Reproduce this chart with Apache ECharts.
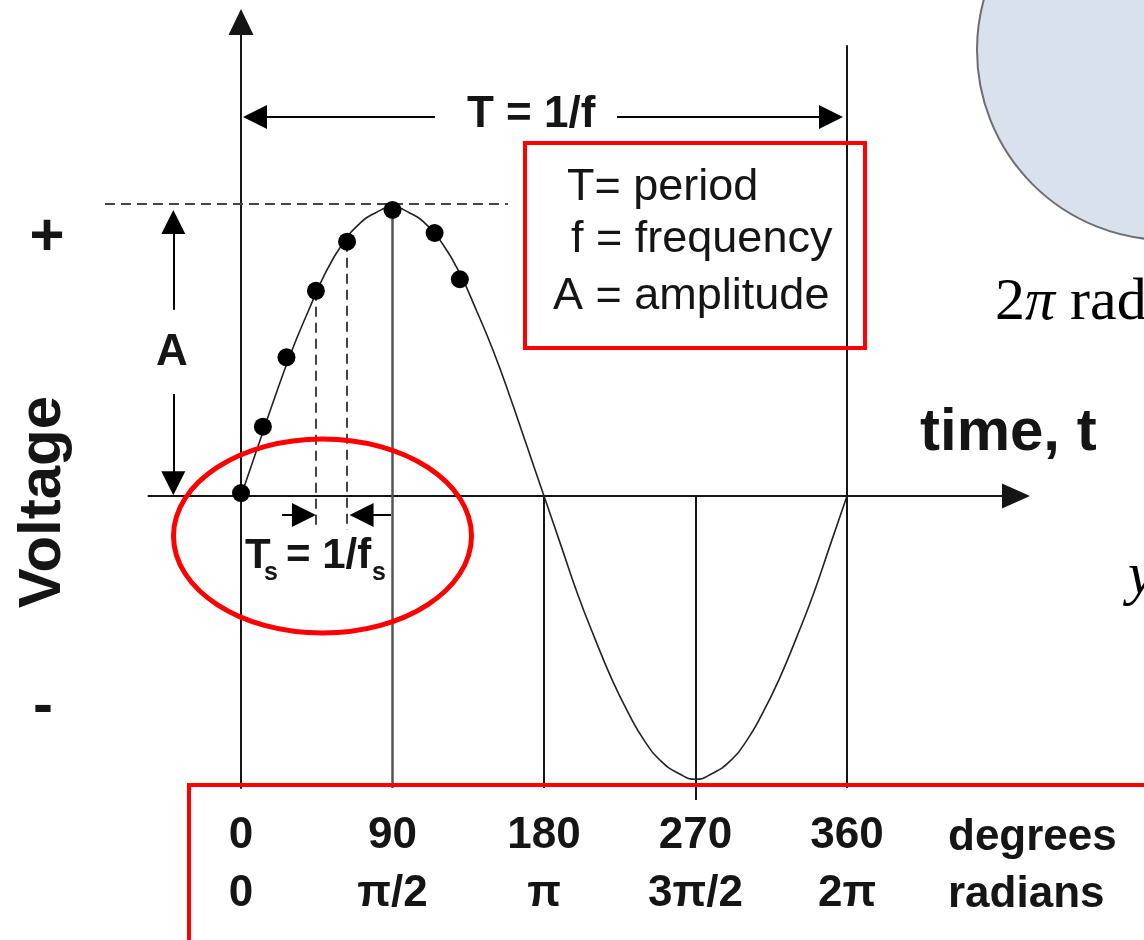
<!DOCTYPE html>
<html>
<head>
<meta charset="utf-8">
<script src="https://cdn.jsdelivr.net/npm/echarts@6/dist/echarts.min.js"></script>
<style>
html,body{margin:0;padding:0;background:#fff;}
#chart{width:1144px;height:940px;}
</style>
</head>
<body>
<div id="chart"></div>
<script>
// ---- data ----
const curveDeg  = [0,10,20,30,40,50,60,70,80,90,100,110,120,130,140,150,160,170,180,
                   190,200,210,220,230,240,250,260,270,280,290,300,310,320,330,340,350,360];
const curveVolt = [0,0.17,0.34,0.5,0.64,0.77,0.87,0.94,0.98,1,0.98,0.94,0.87,0.77,0.64,0.5,0.34,0.17,0,
                   -0.17,-0.34,-0.49,-0.63,-0.75,-0.85,-0.92,-0.96,-0.98,-0.96,-0.92,-0.85,-0.75,-0.63,-0.49,-0.34,-0.17,0];
const sampleDeg  = [0,13,27,44.5,63,90,115,130];
const sampleVolt = [0.01,0.24,0.48,0.71,0.88,0.99,0.91,0.75];
const tickDeg      = [0,90,180,270,360];
const degreeLabels = ['0','90','180','270','360'];
const radianLabels = ['0','π/2','π','3π/2','2π'];

// ---- layout ----
const PXD = 606/360;   // pixels per degree
const PXV = 289;       // pixels per volt unit
const SANS  = '"Liberation Sans", Arial, sans-serif';
const SERIF = '"Liberation Serif", "Times New Roman", serif';
const INK = '#151515';
const RED = '#ff0000';

function arrow(x1, y1, x2, y2) {
  const dx = (x2 - x1) * PXD, dy = (y2 - y1) * PXV;
  const k = 12 / Math.hypot(dx, dy);
  return { coords: [[x1, y1], [x2 - (x2 - x1) * k, y2 - (y2 - y1) * k]] };
}

const peakV = sampleVolt[5];
const yMin = -1.0104, yMax = 1.6401;
const tY = 1.311, tsY = -0.066, aX = -40.2;

const option = {
  animation: false,
  backgroundColor: '#ffffff',
  grid: [
    { left: 148.42, top: 22, width: 867.6, height: 766 },
    { left: 241, top: 22, width: 606, height: 766 }
  ],
  xAxis: [
    { gridIndex: 0, type: 'value', min: -55, max: 460.4,
      axisLine: { onZero: true, symbol: ['none', 'triangle'], symbolSize: [25, 28],
                  lineStyle: { color: INK, width: 2 } },
      axisTick: { show: false }, axisLabel: { show: false }, splitLine: { show: false } },
    { gridIndex: 1, type: 'value', min: 0, max: 360, interval: 90, position: 'bottom',
      axisLine: { show: false }, axisTick: { show: false }, splitLine: { show: false },
      axisLabel: {
        margin: 19,
        formatter: function (v) {
          const i = tickDeg.indexOf(v);
          return i < 0 ? '' : '{d|' + degreeLabels[i] + '}\n{d|' + radianLabels[i] + '}';
        },
        rich: { d: { fontFamily: SANS, fontWeight: 'bold', fontSize: 44, lineHeight: 58, color: INK } }
      } }
  ],
  yAxis: [
    { gridIndex: 0, type: 'value', min: yMin, max: yMax,
      axisLine: { onZero: true, symbol: ['none', 'triangle'], symbolSize: [25, 26],
                  lineStyle: { color: INK, width: 2 } },
      axisTick: { show: false }, axisLabel: { show: false }, splitLine: { show: false } },
    { gridIndex: 1, type: 'value', min: yMin, max: yMax, show: false }
  ],
  series: [
    { type: 'lines', coordinateSystem: 'cartesian2d', clip: false, z: 2,
      lineStyle: { color: INK, width: 2, opacity: 1 },
      data: [
        { coords: [[tickDeg[1], peakV], [tickDeg[1], yMin]], lineStyle: { color: '#555', width: 2.5, opacity: 1 } },
        { coords: [[tickDeg[2], 0], [tickDeg[2], yMin]] },
        { coords: [[tickDeg[3], 0], [tickDeg[3], -1.052]] },
        { coords: [[tickDeg[4], 1.56], [tickDeg[4], yMin]] }
      ] },
    { type: 'lines', coordinateSystem: 'cartesian2d', clip: false, z: 2,
      lineStyle: { color: '#444', width: 2, type: [10, 6], opacity: 1 },
      data: [
        { coords: [[-80.8, 1.01], [158.6, 1.01]] },
        { coords: [[sampleDeg[3], sampleVolt[3]], [sampleDeg[3], -0.118]] },
        { coords: [[sampleDeg[4], sampleVolt[4]], [sampleDeg[4], -0.118]] }
      ] },
    { type: 'lines', coordinateSystem: 'cartesian2d', clip: false, z: 3,
      symbol: ['none', 'triangle'], symbolSize: 24,
      lineStyle: { color: '#000', width: 2, opacity: 1 },
      data: [
        arrow(115.2, tY, tickDeg[0] + 1.2, tY),
        arrow(223.4, tY, tickDeg[4] - 2.4, tY),
        arrow(aX, 0.644, aX, 0.99),
        arrow(aX, 0.353, aX, 0.003),
        arrow(24.4, tsY, sampleDeg[3], tsY),
        arrow(89.1, tsY, sampleDeg[4] + 1.5, tsY)
      ] },
    { type: 'line', xAxisIndex: 0, yAxisIndex: 0, smooth: true, symbol: 'none', z: 3,
      lineStyle: { color: '#222', width: 1.6 },
      data: curveDeg.map((d, i) => [d, curveVolt[i]]) },
    { type: 'scatter', xAxisIndex: 0, yAxisIndex: 0, symbolSize: 18, z: 4,
      itemStyle: { color: '#000', opacity: 1 },
      data: sampleDeg.map((d, i) => [d, sampleVolt[i]]) }
  ],
  graphic: [
    { type: 'circle', z: 1, shape: { cx: 1167, cy: 50, r: 190 },
      style: { fill: '#d9e1ed', stroke: '#6e6e6e', lineWidth: 2 } },
    { type: 'text', z: 50, style: { x: 995, y: 303, textVerticalAlign: 'middle',
      text: '{n|2}{p|π}{n| radians}',
      rich: { n: { fontFamily: SERIF, fontSize: 60, color: '#000' },
              p: { fontFamily: SERIF, fontSize: 60, fontStyle: 'italic', color: '#000' } } } },
    { type: 'text', z: 50, style: { x: 1128, y: 577, textVerticalAlign: 'middle', text: 'y',
      font: 'italic 60px ' + SERIF, fill: '#000' } },

    { type: 'text', z: 50, style: { x: 467, y: 115, textVerticalAlign: 'middle', text: 'T = 1/f',
      font: 'bold 44px ' + SANS, fill: INK } },
    { type: 'rect', z: 100, shape: { x: 525, y: 143, width: 340, height: 205 },
      style: { fill: 'transparent', stroke: RED, lineWidth: 4 } },
    { type: 'text', z: 50, style: { x: 567, y: 188, textVerticalAlign: 'middle', text: 'T= period',
      font: '45px ' + SANS, fill: INK } },
    { type: 'text', z: 50, style: { x: 571, y: 239.5, textVerticalAlign: 'middle', text: 'f = frequency',
      font: '45px ' + SANS, fill: INK } },
    { type: 'text', z: 50, style: { x: 553, y: 296.5, textVerticalAlign: 'middle', text: 'A = amplitude',
      font: '45px ' + SANS, fill: INK } },

    { type: 'text', z: 50, style: { x: 172, y: 353, textAlign: 'center', textVerticalAlign: 'middle', text: 'A',
      font: 'bold 44px ' + SANS, fill: INK } },

    { type: 'text', z: 50, style: { x: 245, y: 556, textVerticalAlign: 'middle', text: 'T',
      font: 'bold 42px ' + SANS, fill: INK } },
    { type: 'text', z: 50, style: { x: 264, y: 573, textVerticalAlign: 'middle', text: 's',
      font: 'bold 25px ' + SANS, fill: INK } },
    { type: 'text', z: 50, style: { x: 286, y: 556, textVerticalAlign: 'middle', text: '= 1/f',
      font: 'bold 42px ' + SANS, fill: INK } },
    { type: 'text', z: 50, style: { x: 372, y: 573, textVerticalAlign: 'middle', text: 's',
      font: 'bold 25px ' + SANS, fill: INK } },
    { type: 'ellipse', z: 100, shape: { cx: 322.5, cy: 536, rx: 149, ry: 97 },
      style: { fill: 'transparent', stroke: RED, lineWidth: 5 } },

    { type: 'text', z: 50, style: { x: 920, y: 433, textVerticalAlign: 'middle', text: 'time, t',
      font: 'bold 60px ' + SANS, fill: INK } },

    { type: 'text', z: 50, x: 43, y: 502, rotation: Math.PI / 2,
      style: { x: 0, y: 0, textAlign: 'center', textVerticalAlign: 'middle', text: 'Voltage',
      font: 'bold 60px ' + SANS, fill: INK } },
    { type: 'text', z: 50, style: { x: 47, y: 238, textAlign: 'center', textVerticalAlign: 'middle', text: '+',
      font: 'bold 60px ' + SANS, fill: INK } },
    { type: 'text', z: 50, style: { x: 43, y: 707, textAlign: 'center', textVerticalAlign: 'middle', text: '-',
      font: 'bold 60px ' + SANS, fill: INK } },

    { type: 'rect', z: 100, shape: { x: 189, y: 785, width: 1000, height: 300 },
      style: { fill: 'transparent', stroke: RED, lineWidth: 4 } },
    { type: 'text', z: 50, style: { x: 948, y: 838, textVerticalAlign: 'middle', text: 'degrees',
      font: 'bold 44px ' + SANS, fill: INK } },
    { type: 'text', z: 50, style: { x: 948, y: 895, textVerticalAlign: 'middle', text: 'radians',
      font: 'bold 44px ' + SANS, fill: INK } }
  ]
};

const chart = echarts.init(document.getElementById('chart'), null, { renderer: 'canvas' });
chart.setOption(option);
</script>
</body>
</html>
